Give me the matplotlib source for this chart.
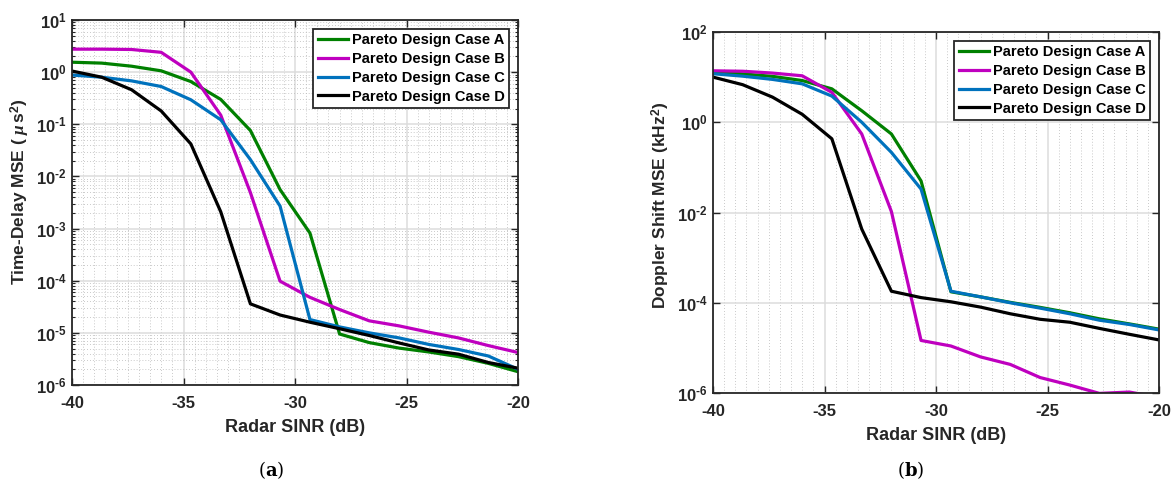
import numpy as np
import matplotlib
matplotlib.use("Agg")
import matplotlib.pyplot as plt
from matplotlib.ticker import FixedLocator, MultipleLocator, FuncFormatter, LogLocator, NullFormatter

plt.rcParams['font.family'] = ['Liberation Sans', 'DejaVu Sans']
plt.rcParams['font.weight'] = 'bold'
plt.rcParams['mathtext.fontset'] = 'custom'
plt.rcParams['mathtext.rm'] = 'Liberation Sans:bold'
plt.rcParams['mathtext.bf'] = 'Liberation Sans:bold'
plt.rcParams['mathtext.it'] = 'Liberation Serif:italic'
plt.rcParams['axes.unicode_minus'] = False

# Radar SINR grid (dB), 16 points from -40 to -20
sinr = [-40, -38.67, -37.33, -36, -34.67, -33.33, -32, -30.67,
        -29.33, -28, -26.67, -25.33, -24, -22.67, -21.33, -20]

labels = ['Pareto Design Case A', 'Pareto Design Case B',
          'Pareto Design Case C', 'Pareto Design Case D']
colors = ['#008000', '#bf00bf', '#0072bd', '#000000']

# (a) time-delay MSE (us^2)
delay_A = [1.55, 1.49, 1.30, 1.06, 0.66, 0.30, 0.076, 5.6e-3,
           8.2e-4, 9.5e-6, 6.5e-6, 5.1e-6, 4.3e-6, 3.5e-6, 2.6e-6, 1.8e-6]
delay_B = [2.76, 2.76, 2.72, 2.4, 1.0, 0.15, 4.9e-3, 9.8e-5,
           4.8e-5, 2.8e-5, 1.7e-5, 1.36e-5, 1.03e-5, 8.0e-6, 5.7e-6, 4.2e-6]
delay_C = [0.88, 0.80, 0.68, 0.53, 0.295, 0.122, 0.021, 2.7e-3,
           1.8e-5, 1.3e-5, 1.0e-5, 8.0e-6, 6.0e-6, 4.8e-6, 3.6e-6, 2.0e-6]
delay_D = [1.05, 0.80, 0.46, 0.18, 0.042, 2.1e-3, 3.6e-5, 2.2e-5,
           1.6e-5, 1.2e-5, 8.9e-6, 6.4e-6, 4.7e-6, 3.9e-6, 2.7e-6, 2.1e-6]

# (b) Doppler shift MSE (kHz^2)
dopp_A = [13.4, 11.8, 10.4, 8.4, 5.5, 1.8, 0.55, 0.05,
          1.75e-4, 1.35e-4, 1.02e-4, 7.9e-5, 6.0e-5, 4.4e-5, 3.4e-5, 2.6e-5]
dopp_B = [13.8, 13.5, 12.3, 10.7, 4.6, 0.55, 0.0105, 1.46e-5,
          1.1e-5, 6.3e-6, 4.3e-6, 2.2e-6, 1.5e-6, 0.98e-6, 1.05e-6, 8.0e-7]
dopp_C = [11.9, 10.5, 8.9, 7.1, 3.8, 1.0, 0.215, 0.033,
          1.8e-4, 1.35e-4, 1.0e-4, 7.6e-5, 5.7e-5, 4.1e-5, 3.3e-5, 2.5e-5]
dopp_D = [10.0, 6.8, 3.6, 1.5, 0.43, 4.3e-3, 1.8e-4, 1.3e-4,
          1.05e-4, 8.0e-5, 5.7e-5, 4.3e-5, 3.7e-5, 2.7e-5, 2.0e-5, 1.5e-5]

W, H = 1175, 484
fig = plt.figure(figsize=(W / 100, H / 100), dpi=100)
ax1 = fig.add_axes([72 / W, 1 - 385 / H, (518 - 72) / W, (385 - 20) / H])
ax2 = fig.add_axes([713 / W, 1 - 393 / H, (1159 - 713) / W, (393 - 32) / H])

txt = '#262626'


def powfmt(v, pos):
    e = int(round(np.log10(v)))
    if e < 0:
        return r'$\mathbf{10^{\text{-}%d}}$' % (-e)
    return r'$\mathbf{10^{%d}}$' % e


def style(ax, ymin, ymax, ystep, yminor, ylab, ylab_x, ylab_y):
    ax.set_yscale('log')
    ax.set_xlim(-40, -20)
    ax.set_ylim(ymin, ymax)
    ax.xaxis.set_major_locator(MultipleLocator(5))
    ax.xaxis.set_minor_locator(MultipleLocator(0.5))
    ax.yaxis.set_major_locator(FixedLocator([10.0 ** e for e in range(int(np.log10(ymin)), int(np.log10(ymax)) + 1, ystep)]))
    if yminor:
        ax.yaxis.set_minor_locator(LogLocator(base=10, subs=np.arange(2, 10), numticks=20))
    else:
        ax.yaxis.set_minor_locator(FixedLocator([]))
    ax.yaxis.set_major_formatter(FuncFormatter(powfmt))
    ax.yaxis.set_minor_formatter(NullFormatter())
    ax.tick_params(which='both', direction='in', top=True, right=True, colors=txt,
                   labelsize=12)
    ax.tick_params(axis='x', which='major', pad=8)
    ax.tick_params(axis='y', which='major', pad=4)
    ax.tick_params(which='major', length=5, width=1)
    ax.tick_params(which='minor', length=2.5, width=0.8)
    ax.tick_params(axis='x', which='minor', length=0)
    ax.grid(True, which='major', color='#dcdcdc', lw=1.1)
    ax.grid(True, which='minor', axis='x', color='#b8b8b8', lw=0.6, ls=(0, (1, 2.5)))
    if yminor:
        ax.grid(True, which='minor', axis='y', color='#b8b8b8', lw=0.6, ls=(0, (1, 2.5)))
    ax.set_axisbelow(True)
    for s in ax.spines.values():
        s.set_color(txt)
        s.set_linewidth(1.3)
    for lab in ax.get_xticklabels() + ax.get_yticklabels():
        lab.set_fontweight('bold')
    ax.set_xlabel('Radar SINR (dB)', fontsize=13, fontweight='bold', color=txt, labelpad=6)
    ax.set_ylabel(ylab, fontsize=12.5, fontweight='bold', color=txt)
    ax.yaxis.set_label_coords(ylab_x, ylab_y)
    leg = ax.legend(loc='upper right', fontsize=10.5, frameon=True, fancybox=False,
                    edgecolor='#262626', framealpha=1, handlelength=2.1,
                    borderpad=0.3, labelspacing=0.33, handletextpad=0.25,
                    borderaxespad=0.6)
    leg.get_frame().set_linewidth(1.3)
    for t in leg.get_texts():
        t.set_fontweight('bold')


for y, lab, c in zip([delay_A, delay_B, delay_C, delay_D], labels, colors):
    ax1.plot(sinr, y, color=c, lw=2.3, label=lab)
style(ax1, 1e-6, 1e1, 1, True, r'Time-Delay MSE ( $\mu\,$s$^2$)', -0.09, 0.53)

for y, lab, c in zip([dopp_A, dopp_B, dopp_C, dopp_D], labels, colors):
    ax2.plot(sinr, y, color=c, lw=2.3, label=lab)
style(ax2, 1e-6, 1e2, 2, False, r'Doppler Shift MSE (kHz$^2$)', -0.093, 0.52)

fig.text(271 / W, 1 - 470 / H, r'($\mathbf{a}$)', ha='center', va='center',
         fontsize=13, family='DejaVu Serif', math_fontfamily='dejavuserif', fontweight='normal')
fig.text(911 / W, 1 - 470 / H, r'($\mathbf{b}$)', ha='center', va='center',
         fontsize=13, family='DejaVu Serif', math_fontfamily='dejavuserif', fontweight='normal')

fig.savefig('out.png', dpi=100)
